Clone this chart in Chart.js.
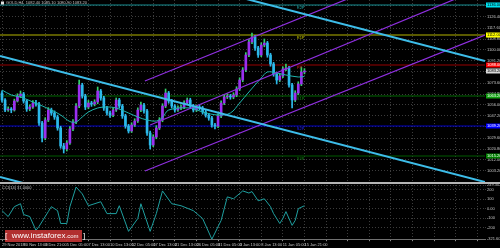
<!DOCTYPE html>
<html>
<head>
<meta charset="utf-8">
<script src="https://cdn.jsdelivr.net/npm/chart.js@4.4.1/dist/chart.umd.min.js"></script>
<style>
  html, body { margin: 0; padding: 0; background: #000; }
  body { width: 500px; height: 248px; position: relative; overflow: hidden; }
  #mainBox { position: absolute; left: 0; top: 0; width: 500px; height: 182px; }
  #cciBox { position: absolute; left: 0; top: 184px; width: 500px; height: 64px; }
  #sep { position: absolute; left: 0; top: 182px; width: 500px; height: 2px; background: #b4b4b4; }
  #brand {
    position: absolute; left: 5px; top: 230px; width: 77px; height: 12px;
    background: rgba(196, 52, 52, .9); color: #fff;
    font: 8px/12px "Liberation Sans", Arial, sans-serif; text-align: center; white-space: nowrap;
  }
  #brand small { font-size: 6px; }
</style>
</head>
<body>
<div id="mainBox"><canvas id="priceChart"></canvas></div>
<div id="sep"></div>
<div id="cciBox"><canvas id="cciChart"></canvas></div>
<div id="brand">[&nbsp; www.instaforex<small>.com</small> &nbsp;]</div>

<script>
/* ==========================================
   Data (H4 candles)
========================================== */

const opens = [
    1065.6, 1060.0, 1052.0, 1052.8, 1052.0, 1059.2, 1063.2, 1064.8, 1059.2, 1052.8,
    1054.4, 1057.6, 1056.8, 1041.6, 1029.6, 1044.0, 1052.0, 1049.6, 1046.4, 1037.6,
    1023.2, 1020.8, 1025.6, 1036.8, 1042.4, 1055.2, 1072.0, 1063.2, 1054.4, 1057.6,
    1056.8, 1058.4, 1067.2, 1061.6, 1053.6, 1049.6, 1048.0, 1052.0, 1060.0, 1055.2,
    1047.2, 1039.2, 1035.2, 1040.0, 1043.2, 1052.0, 1056.0, 1051.2, 1033.6, 1024.0,
    1030.4, 1037.6, 1044.0, 1055.2, 1065.6, 1059.2, 1055.2, 1052.0, 1053.6, 1054.4,
    1057.6, 1060.0, 1055.2, 1052.0, 1054.4, 1053.6, 1050.4, 1048.0, 1045.6, 1040.0,
    1039.2, 1047.2, 1057.6, 1062.4, 1063.2, 1062.4, 1064.0, 1068.8, 1076.0, 1084.0,
    1096.0, 1106.4, 1110.4, 1101.6, 1096.0, 1104.0, 1105.6, 1096.0, 1088.8, 1080.8,
    1076.0, 1079.2, 1084.8, 1085.6, 1072.0, 1060.0, 1065.6, 1072.8, 1082.4
];

const highs = [
    1067.4, 1061.2, 1054.5, 1054.0, 1060.7, 1065.0, 1067.2, 1066.1, 1060.3, 1056.2,
    1059.5, 1059.8, 1058.1, 1043.0, 1045.8, 1053.9, 1053.5, 1051.3, 1047.9, 1039.0,
    1025.3, 1027.5, 1038.7, 1044.3, 1057.1, 1076.0, 1073.4, 1064.6, 1059.6, 1059.0,
    1060.2, 1070.4, 1068.5, 1062.9, 1055.0, 1051.2, 1053.8, 1061.6, 1061.3, 1056.5,
    1048.6, 1040.5, 1041.8, 1045.0, 1053.7, 1058.4, 1057.3, 1052.5, 1035.1, 1032.2,
    1039.5, 1045.9, 1057.0, 1068.8, 1066.9, 1060.5, 1056.4, 1055.3, 1056.0, 1059.4,
    1061.6, 1061.4, 1056.5, 1056.1, 1055.8, 1054.9, 1051.7, 1049.3, 1046.9, 1041.4,
    1049.0, 1059.4, 1064.2, 1065.0, 1064.5, 1065.8, 1070.6, 1077.8, 1085.9, 1097.9,
    1108.3, 1113.6, 1111.8, 1103.0, 1105.8, 1108.8, 1106.9, 1097.4, 1090.1, 1082.2,
    1081.0, 1086.6, 1088.8, 1087.0, 1073.4, 1067.4, 1074.6, 1086.4, 1085.1
];

const lows = [
    1058.3, 1050.6, 1050.9, 1049.8, 1051.1, 1058.4, 1061.9, 1057.5, 1050.9, 1051.4,
    1053.2, 1055.0, 1039.7, 1026.4, 1028.2, 1042.7, 1047.8, 1044.5, 1035.8, 1021.4,
    1017.6, 1019.2, 1024.4, 1035.5, 1041.0, 1053.8, 1061.5, 1052.3, 1053.0, 1054.9,
    1055.3, 1057.0, 1059.8, 1051.7, 1047.9, 1046.1, 1046.7, 1050.8, 1053.4, 1045.3,
    1037.4, 1033.6, 1034.0, 1038.8, 1042.0, 1050.6, 1049.4, 1031.7, 1020.8, 1022.7,
    1029.0, 1036.3, 1042.6, 1053.9, 1057.4, 1053.5, 1050.3, 1050.8, 1052.2, 1053.1,
    1056.3, 1053.5, 1050.4, 1050.7, 1052.0, 1048.7, 1046.3, 1043.8, 1038.3, 1036.8,
    1037.9, 1045.8, 1056.3, 1061.1, 1060.6, 1061.0, 1062.7, 1067.5, 1074.6, 1082.7,
    1094.6, 1105.0, 1099.7, 1094.1, 1094.7, 1102.6, 1094.2, 1087.0, 1079.0, 1072.8,
    1074.7, 1077.9, 1083.5, 1070.3, 1053.6, 1058.7, 1064.3, 1071.5, 1080.9
];

const closes = [
    1060.0, 1052.0, 1052.8, 1052.0, 1059.2, 1063.2, 1064.8, 1059.2, 1052.8, 1054.4,
    1057.6, 1056.8, 1041.6, 1029.6, 1044.0, 1052.0, 1049.6, 1046.4, 1037.6, 1023.2,
    1020.8, 1025.6, 1036.8, 1042.4, 1055.2, 1072.0, 1063.2, 1054.4, 1057.6, 1056.8,
    1058.4, 1067.2, 1061.6, 1053.6, 1049.6, 1048.0, 1052.0, 1060.0, 1055.2, 1047.2,
    1039.2, 1035.2, 1040.0, 1043.2, 1052.0, 1056.0, 1051.2, 1033.6, 1024.0, 1030.4,
    1037.6, 1044.0, 1055.2, 1065.6, 1059.2, 1055.2, 1052.0, 1053.6, 1054.4, 1057.6,
    1060.0, 1055.2, 1052.0, 1054.4, 1053.6, 1050.4, 1048.0, 1045.6, 1040.0, 1039.2,
    1047.2, 1057.6, 1062.4, 1063.2, 1062.4, 1064.0, 1068.8, 1076.0, 1084.0, 1096.0,
    1106.4, 1110.4, 1101.6, 1096.0, 1104.0, 1105.6, 1096.0, 1088.8, 1080.8, 1076.0,
    1079.2, 1084.8, 1085.6, 1072.0, 1060.0, 1065.6, 1072.8, 1082.4, 1083.2
];

// moving average, read at its bends
const maBars   = [0, 3, 6, 10, 16, 19, 22, 24, 26, 28, 31, 34, 37, 41, 44, 47, 50, 52, 54, 61, 65, 70, 74, 77, 80, 84, 86, 89, 92, 96, 98];
const maValues = [1068.0, 1064.0, 1062.4, 1058.4, 1052.0, 1048.0, 1042.8, 1042.4, 1046.4, 1050.4, 1053.6, 1054.4, 1053.6, 1049.6, 1046.4, 1044.0,
                  1043.2, 1046.0, 1052.0, 1053.6, 1050.4, 1048.0, 1049.6, 1057.6, 1066.4, 1077.6, 1082.4, 1081.6, 1080.0, 1078.4, 1078.8];

// CCI(14), read at its bends
const cciBars   = [0, 2, 4, 6, 7, 9, 11, 12, 15, 16, 17, 18, 19, 21, 22, 24, 26, 28, 32, 34, 37, 38, 41, 44, 45, 48, 50, 52, 55,
                   58, 62, 65, 68, 71, 73, 75, 78, 80, 81, 83, 85, 87, 88, 90, 91, 92, 94, 95, 96, 98];
const cciValues = [-21, -83, 21, 52, -62, -83, -228, -187, -31, 21, 0, -21, -156, -156, 21, 228, 156, 31, 73, -52, -52, 31, -239, -104, 52,
                   -239, -52, 187, 52, 31, -21, -104, -321.6, -124, 124, 104, 187, 165, 180, 83, 104, 21, -52, -156, -104, -31, -176, -124, 0, 31];

// trend lines: [bar, price] at both ends
const blueChannel = [
    [[-0.65, 1192.0], [156.5, 1091.2]],
    [[-0.65, 1095.2], [156.5, 994.4]],
    [[-0.65, 998.4], [156.5, 897.6]]
];
const violetChannel = [
    [[46.3, 1075.2], [156.5, 1185.4]],
    [[48.0, 1040.0], [156.5, 1150.6]],
    [[46.3, 1003.2], [156.5, 1112.0]]
];

// daily pivot levels
const pivotNames  = ["R2P", "R1P", "PP", "S1P", "S2P", "S3P"];
const pivotLevels = [1136.0, 1112.0, 1088.0, 1063.2, 1039.2, 1015.2];

// axis labels
const priceTicks = [1135.2, 1126.4, 1117.6, 1108.8, 1100.0, 1091.2, 1082.4, 1073.6, 1064.8, 1056.0, 1047.2, 1038.4, 1029.6, 1020.8, 1012.0, 1003.2];
const timeLabels = [
    "29 Nov 2018", "30 Nov 13:00", "3 Dec 21:00", "5 Dec 05:00", "7 Dec 13:00",
    "10 Dec 13:00", "12 Dec 05:00", "17 Dec 13:00", "21 Dec 13:00", "26 Dec 05:00",
    "31 Dec 05:00", "3 Jan 13:00", "8 Jan 13:00", "11 Jan 05:00", "15 Jan 21:00"
];
const cciTicks      = [249.3, 200, 100, 0, -100, -200, -321.6];
const cciTickLabels = ["249.3021", "200", "100", "0.00", "-100", "-200", "-321.6098"];

/* ==========================================
   Styles
========================================== */

const X_MIN = -0.65, X_MAX = 156.5;
const BAR_STEP = 7;
const gridBars = [];
for (let v = 0; v <= X_MAX; v += BAR_STEP) gridBars.push(v);

const upBody = "#9b2ff0", downBody = "#2cb9ea", upWick = "#34d06a";
const levelLine = ["#178f93", "#b4b400", "#980000", "#006b00", "#0000c8", "#005a00"];
const levelBox  = ["#00e0ee", "#ffff00", "#ff0000", "#10a010", "#0000ff", "#008000"];
const levelInk  = ["#000", "#000", "#fff", "#fff", "#fff", "#fff"];
const levelTag  = ["#20b0b0", "#c8c800", "#d02020", "#109010", "#2020ff", "#108010"];
const gridColor = "#3c3c3c";
const axisInk = "#c4c4c4";
const tiny = { family: "'Liberation Sans', Arial, sans-serif", size: 4 };

const bars = closes.map((_, i) => i);
const isUp = bars.map(i => closes[i] >= opens[i]);

function segment(ends) {
    return ends.map(p => ({ x: p[0], y: p[1] }));
}

function fixedWidth(w) {
    return function (scale) {
        scale.width = w;
        scale.paddingTop = 0;
        scale.paddingBottom = 0;
    };
}

/* ==========================================
   Price chart
========================================== */

const priceMarks = {
    id: "priceMarks",
    afterDraw(chart) {
        const { ctx, chartArea, scales: { x, y } } = chart;
        ctx.save();
        ctx.font = "4px 'Liberation Sans', Arial, sans-serif";
        ctx.textBaseline = "middle";
        ctx.textAlign = "left";

        pivotLevels.forEach((level, k) => {
            const py = y.getPixelForValue(level);
            ctx.fillStyle = levelTag[k];
            ctx.fillText(pivotNames[k], x.getPixelForValue(95.5), py + 3);
            ctx.fillStyle = levelBox[k];
            ctx.fillRect(chartArea.right + 1, py - 2.5, 15, 5);
            ctx.fillStyle = levelInk[k];
            ctx.fillText(level.toFixed(2), chartArea.right + 2, py);
        });

        const last = closes.length - 1;
        const cy = y.getPixelForValue(closes[last]);
        ctx.fillStyle = "#d8d8d8";
        ctx.fillRect(chartArea.right + 1, cy - 2.5, 15, 5);
        ctx.fillStyle = "#000";
        ctx.fillText(closes[last].toFixed(2), chartArea.right + 2, cy);

        ctx.fillStyle = "#e0e0e0";
        ctx.fillRect(1, 1.5, 3, 3);
        ctx.fillStyle = axisInk;
        ctx.fillText("GOLD,H4  " + [opens[last], highs[last], lows[last], closes[last]].map(v => v.toFixed(2)).join(" "), 6, 3);
        ctx.restore();
    }
};

new Chart(document.getElementById("priceChart"), {

    type: "bar",

    data: {

        datasets: [

            ...blueChannel.map(ends => ({
                type: "line",
                data: segment(ends),
                borderColor: "#3dbde9",
                borderWidth: 2,
                pointRadius: 0,
                order: 0
            })),

            ...violetChannel.map(ends => ({
                type: "line",
                data: segment(ends),
                borderColor: "#8f2fe0",
                borderWidth: 1.2,
                pointRadius: 0,
                order: 0
            })),

            {
                type: "line",
                data: maBars.map((b, k) => ({ x: b, y: maValues[k] })),
                borderColor: "#1fb5ad",
                borderWidth: 1,
                pointRadius: 0,
                tension: .35,
                order: 1
            },

            {
                data: bars.map(i => ({ x: i, y: [opens[i], closes[i]] })),
                backgroundColor: bars.map(i => isUp[i] ? upBody : downBody),
                barThickness: 2,
                grouped: false,
                order: 2
            },

            {
                data: bars.map(i => ({ x: i, y: [lows[i], highs[i]] })),
                backgroundColor: bars.map(i => isUp[i] ? upWick : downBody),
                barThickness: 1,
                grouped: false,
                order: 3
            },

            ...pivotLevels.map((level, k) => ({
                type: "line",
                data: [{ x: X_MIN, y: level }, { x: X_MAX, y: level }],
                borderColor: levelLine[k],
                borderWidth: 1,
                pointRadius: 0,
                order: 4
            }))

        ]

    },

    options: {

        responsive: true,
        maintainAspectRatio: false,
        animation: false,
        events: [],
        layout: { padding: 0 },

        plugins: {
            legend: { display: false },
            tooltip: { enabled: false }
        },

        scales: {

            x: {
                type: "linear",
                min: X_MIN,
                max: X_MAX,
                offset: false,
                afterBuildTicks: scale => { scale.ticks = gridBars.map(v => ({ value: v })); },
                ticks: { display: false },
                grid: { color: gridColor, drawTicks: false, offset: false },
                border: { display: false, dash: [1, 2] }
            },

            y: {
                position: "right",
                min: 994.4,
                max: 1140,
                afterBuildTicks: scale => { scale.ticks = priceTicks.map(v => ({ value: v })); },
                afterFit: fixedWidth(15),
                ticks: {
                    color: axisInk,
                    font: tiny,
                    padding: 1,
                    callback: v => v.toFixed(2)
                },
                grid: { color: gridColor, tickLength: 1 },
                border: { display: false, dash: [1, 2] }
            }

        }

    },

    plugins: [priceMarks]

});

/* ==========================================
   CCI panel
========================================== */

const cciMarks = {
    id: "cciMarks",
    afterDraw(chart) {
        const { ctx } = chart;
        ctx.save();
        ctx.font = "4px 'Liberation Sans', Arial, sans-serif";
        ctx.textBaseline = "middle";
        ctx.fillStyle = axisInk;
        ctx.fillText("CCI(14) " + cciValues[cciValues.length - 1].toFixed(4), 2, 4);
        ctx.restore();
    }
};

new Chart(document.getElementById("cciChart"), {

    type: "line",

    data: {

        datasets: [{
            data: cciBars.map((b, k) => ({ x: b, y: cciValues[k] })),
            borderColor: "#1f9f9f",
            borderWidth: 1,
            pointRadius: 0,
            tension: 0
        }]

    },

    options: {

        responsive: true,
        maintainAspectRatio: false,
        animation: false,
        events: [],
        layout: { padding: { top: 1 } },

        plugins: {
            legend: { display: false },
            tooltip: { enabled: false }
        },

        scales: {

            x: {
                type: "linear",
                min: X_MIN,
                max: X_MAX,
                afterBuildTicks: scale => { scale.ticks = gridBars.map(v => ({ value: v })); },
                afterFit: scale => { scale.paddingLeft = 0; scale.paddingRight = 0; },
                ticks: {
                    color: axisInk,
                    font: tiny,
                    padding: 1,
                    align: "start",
                    autoSkip: false,
                    maxRotation: 0,
                    callback: (v, i) => timeLabels[i] || ""
                },
                grid: { color: gridColor, tickLength: 2, tickColor: "#909090" },
                border: { display: true, color: "#707070", dash: [1, 2] }
            },

            y: {
                position: "right",
                min: -321.6,
                max: 249.3,
                afterBuildTicks: scale => { scale.ticks = cciTicks.map(v => ({ value: v })); },
                afterFit: fixedWidth(15),
                ticks: {
                    color: axisInk,
                    font: tiny,
                    padding: 1,
                    callback: (v, i) => cciTickLabels[i]
                },
                grid: { color: gridColor, tickLength: 1 },
                border: { display: false, dash: [1, 2] }
            }

        }

    },

    plugins: [cciMarks]

});
</script>
</body>
</html>
